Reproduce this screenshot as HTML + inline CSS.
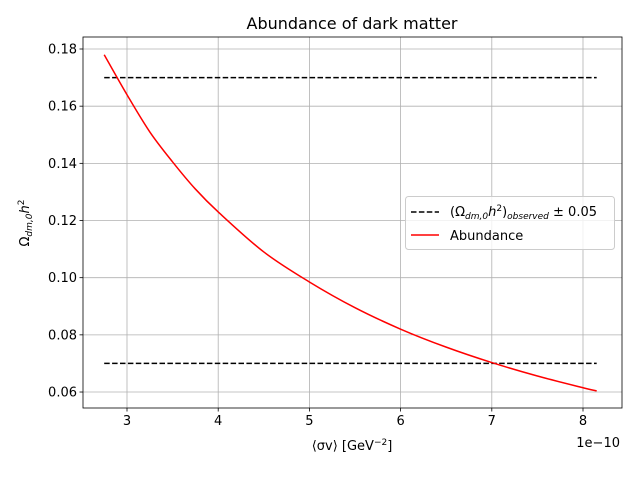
<!DOCTYPE html>
<html><head><meta charset="utf-8"><style>
body{margin:0;background:#fff}
svg text{font-family:"DejaVu Sans","Liberation Sans",sans-serif;fill:#000}
</style></head><body>
<svg id="c" width="640" height="472" xmlns="http://www.w3.org/2000/svg"></svg>
<script>
const xTicks=[3,4,5,6,7,8];
const yTicks=[0.06,0.08,0.10,0.12,0.14,0.16,0.18];
const yTickLabels=["0.06","0.08","0.10","0.12","0.14","0.16","0.18"];
const abX=[2.75,3,3.25,3.5,3.75,4,4.5,5,5.5,6,6.5,7,7.5,8,8.15];
const abY=[0.178,0.164,0.151,0.1405,0.131,0.123,0.109,0.0985,0.0895,0.082,0.0757,0.0703,0.0656,0.0615,0.0604];
const obsLevels=[0.17,0.07];
const obsRange=[2.75,8.15];
const NS="http://www.w3.org/2000/svg";
const svg=document.getElementById('c');
const L=83,R=622,T=37,B=408;
const sx=v=>127+(v-3)*91.2;
const sy=v=>49+(0.18-v)/0.02*57.17;
function mk(t,a,p){const e=document.createElementNS(NS,t);for(const k in a)e.setAttribute(k,a[k]);(p||svg).appendChild(e);return e;}
const grid=mk('g',{});


xTicks.forEach(v=>{const x=sx(v);
 mk('line',{x1:x,x2:x,y1:T,y2:B,stroke:'#b0b0b0','stroke-width':0.8},grid);
 mk('line',{x1:x,x2:x,y1:B,y2:B+3.5,stroke:'#000','stroke-width':0.8});
 const t=mk('text',{x:x,y:B+17,'text-anchor':'middle','font-size':13});t.textContent=v;
 
 });
yTicks.forEach((v,i)=>{const y=sy(v);
 mk('line',{x1:L,x2:R,y1:y,y2:y,stroke:'#b0b0b0','stroke-width':0.8},grid);
 mk('line',{x1:L-3.5,x2:L,y1:y,y2:y,stroke:'#000','stroke-width':0.8});
 const t=mk('text',{x:L-6,y:y+4.5,'text-anchor':'end','font-size':13});t.textContent=yTickLabels[i];
 
 });
obsLevels.forEach(v=>{const l=mk('line',{x1:sx(obsRange[0]),x2:sx(obsRange[1]),y1:sy(v),y2:sy(v),stroke:'#000','stroke-width':1.5,'stroke-dasharray':'5.5,2.4'});
 
 });
const pts=abX.map((x,i)=>[sx(x),sy(abY[i])]);
let d='M'+pts[0][0]+','+pts[0][1];
for(let i=0;i<pts.length-1;i++){
 const p0=pts[Math.max(i-1,0)],p1=pts[i],p2=pts[i+1],p3=pts[Math.min(i+2,pts.length-1)];
 const c1=[p1[0]+(p2[0]-p0[0])/6,p1[1]+(p2[1]-p0[1])/6];
 const c2=[p2[0]-(p3[0]-p1[0])/6,p2[1]-(p3[1]-p1[1])/6];
 d+=' C'+c1[0]+','+c1[1]+' '+c2[0]+','+c2[1]+' '+p2[0]+','+p2[1];
}
const p=mk('path',{d:d,fill:'none',stroke:'red','stroke-width':1.5});


const f=mk('rect',{x:L,y:T,width:R-L,height:B-T,fill:'none',stroke:'#000','stroke-width':0.8});


</script>
<svg style="position:absolute;left:0;top:0" width="640" height="472" xmlns="http://www.w3.org/2000/svg">
<text x="352" y="29" text-anchor="middle" font-size="16">Abundance of dark matter</text>
<text x="352" y="450" text-anchor="middle" font-size="13">⟨σv⟩ [GeV<tspan dy="-5" font-size="9">−2</tspan><tspan dy="5">]</tspan></text>
<text x="620" y="447" text-anchor="end" font-size="13">1e−10</text>
<text transform="translate(29,223) rotate(-90)" text-anchor="middle" font-size="13">Ω<tspan dy="3" font-size="9" font-style="italic">dm,0</tspan><tspan dy="-3" font-style="italic">h</tspan><tspan dy="-5" font-size="9">2</tspan></text>
<g>
<rect x="405.5" y="196.5" width="209" height="53" rx="3" fill="#fff" fill-opacity="0.8" stroke="#ccc"/>
<line x1="411" x2="439" y1="212" y2="212" stroke="#000" stroke-width="1.5" stroke-dasharray="5.5,2.4"/>
<text x="450" y="216" font-size="13">(Ω<tspan dy="3" font-size="9" font-style="italic">dm,0</tspan><tspan dy="-3" font-style="italic">h</tspan><tspan dy="-5" font-size="9">2</tspan><tspan dy="5">)</tspan><tspan dy="3" font-size="9" font-style="italic">observed</tspan><tspan dy="-3"> ± 0.05</tspan></text>
<line x1="411" x2="439" y1="235" y2="235" stroke="red" stroke-width="1.5"/>
<text x="450" y="240" font-size="13">Abundance</text>
</g>
</svg>
</body></html>
